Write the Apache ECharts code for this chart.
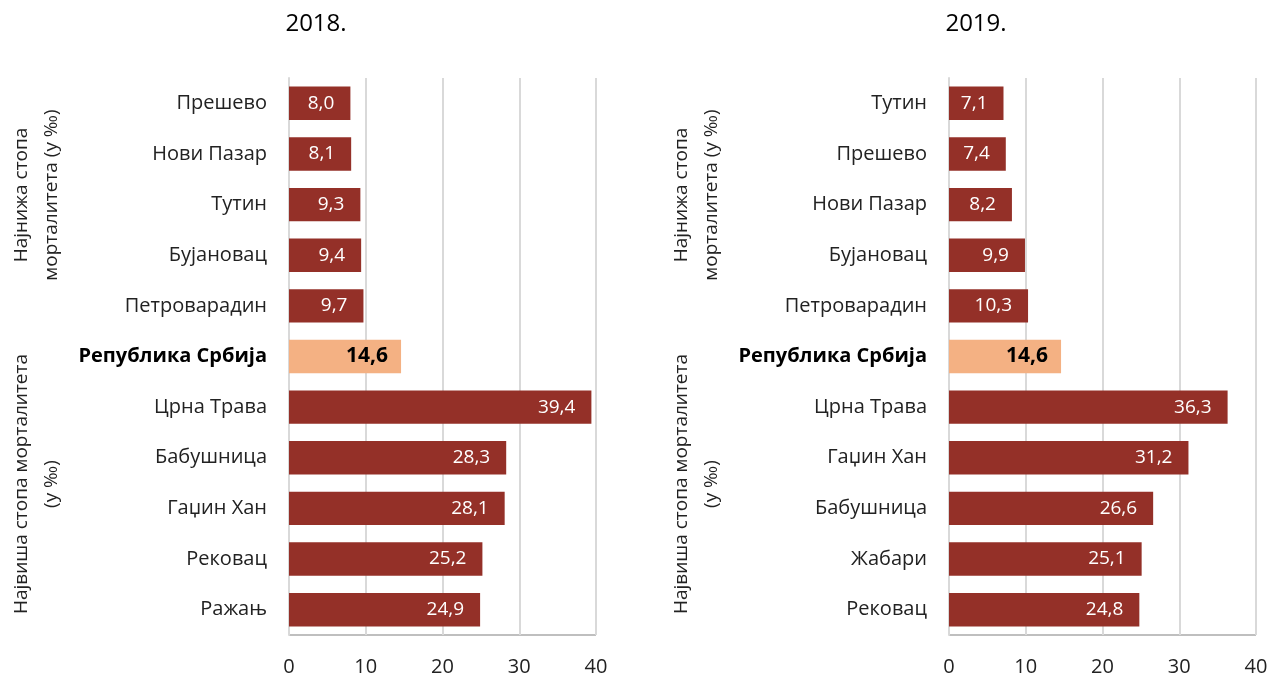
<!DOCTYPE html>
<html>
<head>
<meta charset="utf-8">
<script src="https://cdn.jsdelivr.net/npm/echarts@6/dist/echarts.min.js"></script>
<style>
  html, body { margin: 0; padding: 0; background: #fff; }
  #chart { width: 1271px; height: 677px; }
</style>
</head>
<body>
<div id="chart"></div>
<script>
// data
const years = ['2018.', '2019.'];
const cats2018 = ['Прешево', 'Нови Пазар', 'Тутин', 'Бујановац', 'Петроварадин', 'Република Србија',
    'Црна Трава', 'Бабушница', 'Гаџин Хан', 'Рековац', 'Ражањ'];
const vals2018 = [8.0, 8.1, 9.3, 9.4, 9.7, 14.6, 39.4, 28.3, 28.1, 25.2, 24.9];
const cats2019 = ['Тутин', 'Прешево', 'Нови Пазар', 'Бујановац', 'Петроварадин', 'Република Србија',
    'Црна Трава', 'Гаџин Хан', 'Бабушница', 'Жабари', 'Рековац'];
const vals2019 = [7.1, 7.4, 8.2, 9.9, 10.3, 14.6, 36.3, 31.2, 26.6, 25.1, 24.8];
const xTicks = [0, 10, 20, 30, 40];
const serbia = 'Република Србија';
const lowLabel = 'Најнижа стопа\nморталитета (у ‰)';
const highLabel = 'Највиша стопа морталитета\n(у ‰)';

const dark = '#943028';
const light = '#F4B183';
const font = '"Open Sans", "Noto Sans", sans-serif';

const fmt = v => v.toFixed(1).replace('.', ',');

function buildData(cats, vals) {
    return vals.map((v, i) => {
        if (cats[i] === serbia) {
            return {
                value: v,
                itemStyle: { color: light },
                label: { color: '#000', fontWeight: 'bold', fontSize: 21, distance: 13 }
            };
        }
        return { value: v };
    });
}

const chart = echarts.init(document.getElementById('chart'));

const lefts = [289, 949];
const catsList = [cats2018, cats2019];
const valsList = [vals2018, vals2019];

let grids = [], xAxes = [], yAxes = [], series = [], graphics = [];

for (let k = 0; k < 2; k++) {
    grids.push({ left: lefts[k], width: 307, top: 78, bottom: 42 });
    graphics.push({
        type: 'text', x: lefts[k] + 27, y: 24,
        style: {
            text: years[k], fontFamily: font, fontSize: 24, fill: '#000',
            align: 'center', verticalAlign: 'middle'
        }
    });
    xAxes.push({
        gridIndex: k,
        type: 'value',
        min: 0, max: 40, interval: 10,
        axisLine: { show: false },
        axisTick: { show: false },
        splitLine: { lineStyle: { color: '#d9d9d9', width: 2 } },
        axisLabel: {
            color: '#222', fontSize: 20, fontFamily: font, margin: 22,
            formatter: v => xTicks.includes(v) ? String(v) : ''
        }
    });
    yAxes.push({
        gridIndex: k,
        type: 'category',
        inverse: true,
        data: catsList[k],
        axisLine: { show: true, lineStyle: { color: '#d9d9d9', width: 2 } },
        axisTick: { show: false },
        axisLabel: {
            margin: 22,
            color: '#222', fontSize: 20, fontFamily: font,
            formatter: v => v === serbia ? '{b|' + v + '}' : v,
            rich: { b: { fontWeight: 'bold', color: '#000', fontSize: 20, fontFamily: font } }
        }
    });
    series.push({
        type: 'bar',
        xAxisIndex: k, yAxisIndex: k,
        barWidth: '66%',
        itemStyle: { color: dark },
        label: {
            show: true, position: 'insideRight', distance: 16,
            color: '#fff', fontSize: 19, fontFamily: font,
            formatter: p => fmt(p.value)
        },
        data: buildData(catsList[k], valsList[k])
    });
    // bottom axis line
    graphics.push({
        type: 'line',
        shape: { x1: lefts[k], y1: 635, x2: lefts[k] + 307, y2: 635 },
        style: { stroke: '#bfbfbf', lineWidth: 2 }
    });
    const off = k * 660;
    graphics.push({
        type: 'text', x: 37 + off, y: 195, rotation: Math.PI / 2,
        style: {
            text: lowLabel, fontSize: 19, fontFamily: font, fill: '#222',
            align: 'center', verticalAlign: 'middle', lineHeight: 30
        }
    });
    graphics.push({
        type: 'text', x: 37 + off, y: 484, rotation: Math.PI / 2,
        style: {
            text: highLabel, fontSize: 19, fontFamily: font, fill: '#222',
            align: 'center', verticalAlign: 'middle', lineHeight: 30
        }
    });
}

chart.setOption({
    animation: false,
    grid: grids,
    xAxis: xAxes,
    yAxis: yAxes,
    series: series,
    graphic: graphics
});
</script>
</body>
</html>
